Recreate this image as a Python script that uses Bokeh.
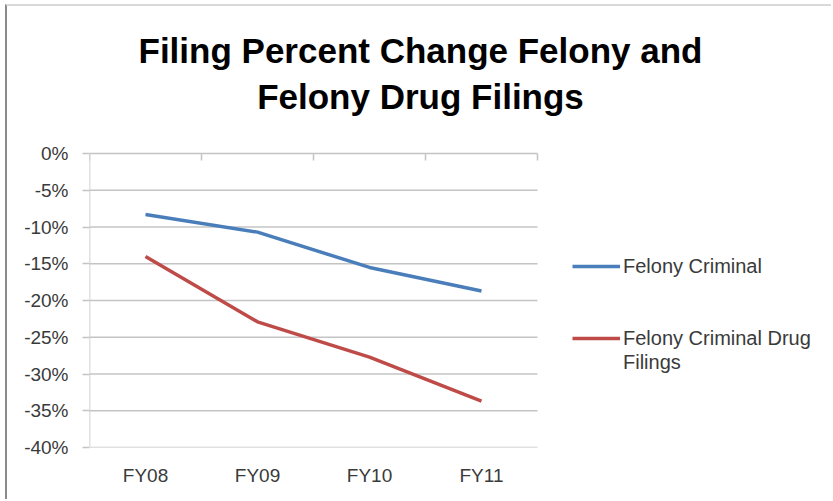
from bokeh.plotting import figure
from bokeh.models import (Range1d, FixedTicker, LinearAxis, Legend, LegendItem,
                          Label, PrintfTickFormatter)
from bokeh.embed import file_html
from bokeh.resources import INLINE

# Data: percent change in filings by fiscal year
years = ["FY08", "FY09", "FY10", "FY11"]
felony_criminal = [-8.3, -10.7, -15.5, -18.7]
felony_drug = [-14.0, -22.9, -27.7, -33.7]
y_ticks = [0, -5, -10, -15, -20, -25, -30, -35, -40]

BLUE = "#4a7ebb"
RED = "#be4b48"
GRID = "#c4c4c4"
TXT = "#3a3a3a"
FONT = "Liberation Sans"

# canvas sits inside a thin chart-area border; the frame covers the plot,
# the title and the legend area, so nothing outside it gets clipped
W, H = 826, 495
F_LEFT, F_BOTTOM = 82, 441
PX_PER_CAT = 112.0      # horizontal size of one category
PX_PER_PCT = 7.35       # vertical size of one percent

n = len(years)
xs = [i + 0.5 for i in range(n)]
edges = list(range(n + 1))
y_lo = min(y_ticks)
y_hi = max(y_ticks)
x_end = (W - F_LEFT) / PX_PER_CAT
y_end = y_lo + F_BOTTOM / PX_PER_PCT

p = figure(width=W, height=H, output_backend="svg", toolbar_location=None,
           x_range=Range1d(0, x_end), y_range=Range1d(y_lo, y_end),
           x_axis_location=None, y_axis_location=None,
           min_border_left=F_LEFT, min_border_right=0,
           min_border_top=0, min_border_bottom=H - F_BOTTOM,
           background_fill_color="white", border_fill_color="white")
p.outline_line_color = None
p.styles = {"margin-left": "5px", "margin-top": "4px",
            "border-left": "2px solid #8a8a8a",
            "border-top": "2px solid #d9d9d9"}
p.xgrid.grid_line_color = None
p.ygrid.grid_line_color = None

# value axis: ticks and labels only, its line is drawn over the plot span
yax = LinearAxis(ticker=FixedTicker(ticks=y_ticks),
                 formatter=PrintfTickFormatter(format="%d%%"))
yax.axis_line_color = None
yax.major_tick_line_color = GRID
yax.major_tick_line_width = 1.5
yax.major_tick_out = 7
yax.major_tick_in = 0
yax.minor_tick_line_color = None
yax.major_label_standoff = 14
yax.major_label_text_font = FONT
yax.major_label_text_font_size = "19px"
yax.major_label_text_color = TXT
p.add_layout(yax, "left")

# category labels below the plot
xax = LinearAxis(ticker=FixedTicker(ticks=xs),
                 major_label_overrides={x: y for x, y in zip(xs, years)})
xax.axis_line_color = None
xax.major_tick_line_color = None
xax.minor_tick_line_color = None
xax.major_label_standoff = 11
xax.major_label_text_font = FONT
xax.major_label_text_font_size = "19px"
xax.major_label_text_color = TXT
p.add_layout(xax, "below")

# horizontal gridlines across the category span
p.segment(x0=[0] * len(y_ticks), y0=y_ticks, x1=[n] * len(y_ticks), y1=y_ticks,
          line_color=GRID, line_width=1.5)
# vertical axis line
p.segment(x0=[0], y0=[y_lo], x1=[0], y1=[y_hi], line_color=GRID, line_width=1.5)
# category boundary tick marks hanging from the 0% line
tick_len = 7 / PX_PER_PCT
p.segment(x0=edges, y0=[y_hi] * len(edges), x1=edges,
          y1=[y_hi - tick_len] * len(edges), line_color=GRID, line_width=1.5)

r_blue = p.line(xs, felony_criminal, line_color=BLUE, line_width=3.5)
r_red = p.line(xs, felony_drug, line_color=RED, line_width=3.5)
r_blank = p.line([], [], line_alpha=0)

legend = Legend(items=[
    LegendItem(label="Felony Criminal", renderers=[r_blue]),
    LegendItem(label="", renderers=[r_blank]),
    LegendItem(label="", renderers=[r_blank]),
    LegendItem(label="Felony Criminal Drug", renderers=[r_red]),
    LegendItem(label="Filings", renderers=[r_blank]),
], location=(483, 73), orientation="vertical")
legend.border_line_color = None
legend.background_fill_alpha = 0
legend.padding = 0
legend.margin = 0
legend.spacing = 0
legend.glyph_width = 48
legend.glyph_height = 24
legend.label_height = 24
legend.label_standoff = 3
legend.label_text_font = FONT
legend.label_text_font_size = "20px"
legend.label_text_color = TXT
p.add_layout(legend, "center")

# chart title, two centred lines
for txt, base in [("Filing Percent Change Felony and", 44),
                  ("Felony Drug Filings", 90)]:
    p.add_layout(Label(x=413 - F_LEFT, y=F_BOTTOM - base,
                       x_units="screen", y_units="screen",
                       text=txt, text_align="center", text_baseline="alphabetic",
                       text_font=FONT, text_font_style="bold",
                       text_font_size="35px", text_color="black"))

open("out.html", "w").write(file_html(p, INLINE))
